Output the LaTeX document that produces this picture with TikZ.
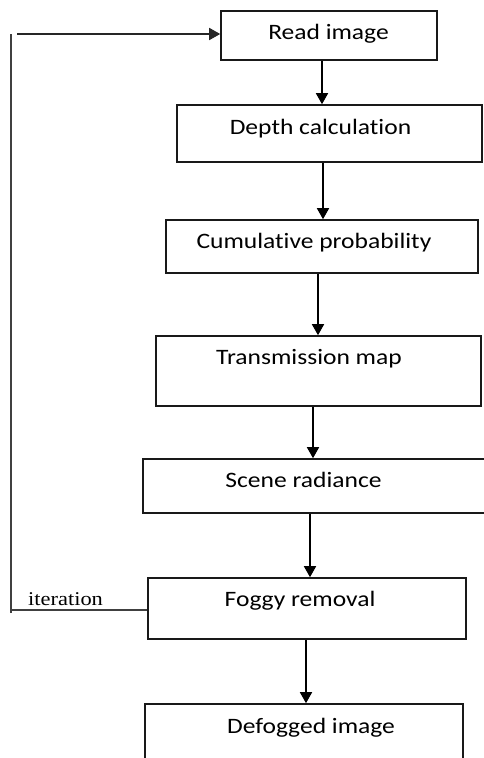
\documentclass[tikz,border=0pt]{standalone}
\usepackage{fontspec}
\setmainfont{Carlito}[FakeStretch=1.16,Ligatures=NoCommon]
\newfontfamily\itfont{Liberation Serif}[FakeStretch=1.15]
\usetikzlibrary{arrows.meta}
\begin{document}
\begin{tikzpicture}[x=1pt,y=-1pt,
  box/.style={draw=black!90, line width=1.6pt, rectangle, inner sep=0pt},
  lbl/.style={anchor=base, inner sep=0pt, font=\fontsize{22}{26}\selectfont},
  arr/.style={line width=1.6pt, -{Triangle[length=11pt,width=12pt]}},
  fb/.style={line width=1.8pt, draw=black!75}]
\useasboundingbox (0,0) rectangle (484,758);
\clip (0,0) rectangle (484,758);
\fill[white] (0,0) rectangle (484,758);
% boxes
\node[box, minimum width=216pt, minimum height=49pt] (b1) at (329,35.5) {};
\node[box, minimum width=305pt, minimum height=57pt] (b2) at (329.5,133.5) {};
\node[box, minimum width=312pt, minimum height=53pt] (b3) at (322,246.5) {};
\node[box, minimum width=325pt, minimum height=70pt] (b4) at (318.5,371) {};
\node[box, minimum width=347pt, minimum height=54pt] (b5) at (316.5,486) {};
\node[box, minimum width=318pt, minimum height=61pt] (b6) at (307,608.5) {};
\node[box, minimum width=318pt, minimum height=76pt] (b7) at (304,742) {};
% texts
\node[lbl] (t1) at (328.5,39) {Read image};
\node[lbl] (t2) at (320.5,134) {Depth calculation};
\node[lbl] (t3) at (314,248) {Cumulative probability};
\node[lbl] (t4) at (309,364) {Transmission map};
\node[lbl] (t5) at (303.5,487) {Scene radiance};
\node[lbl] (t6) at (300,606) {Foggy removal};
\node[lbl] (t7) at (311,733) {Defogged image};
\node[anchor=base west, inner sep=0pt, font=\itfont\fontsize{19.5}{22}\selectfont] (it) at (28,605) {iteration};
% arrow x positions
\coordinate (x1) at (322,0);
\coordinate (x2) at (323,0);
\coordinate (x3) at (318,0);
\coordinate (x4) at (313,0);
\coordinate (x5) at (310,0);
\coordinate (x6) at (306,0);
\draw[arr] (b1.south -| x1) -- (b2.north -| x1);
\draw[arr] (b2.south -| x2) -- (b3.north -| x2);
\draw[arr] (b3.south -| x3) -- (b4.north -| x3);
\draw[arr] (b4.south -| x4) -- (b5.north -| x4);
\draw[arr] (b5.south -| x5) -- (b6.north -| x5);
\draw[arr] (b6.south -| x6) -- (b7.north -| x6);
% feedback loop
\coordinate (c1) at (11,610);
\coordinate (c2) at (11,34);
\coordinate (c3) at (17,34);
\draw[fb] (b6.west |- c1) -- (c1);
\draw[fb] (11,613) -- (c2);
\draw[arr, draw=black!85] (c3) -- (c2 -| b1.west);
\end{tikzpicture}
\end{document}
